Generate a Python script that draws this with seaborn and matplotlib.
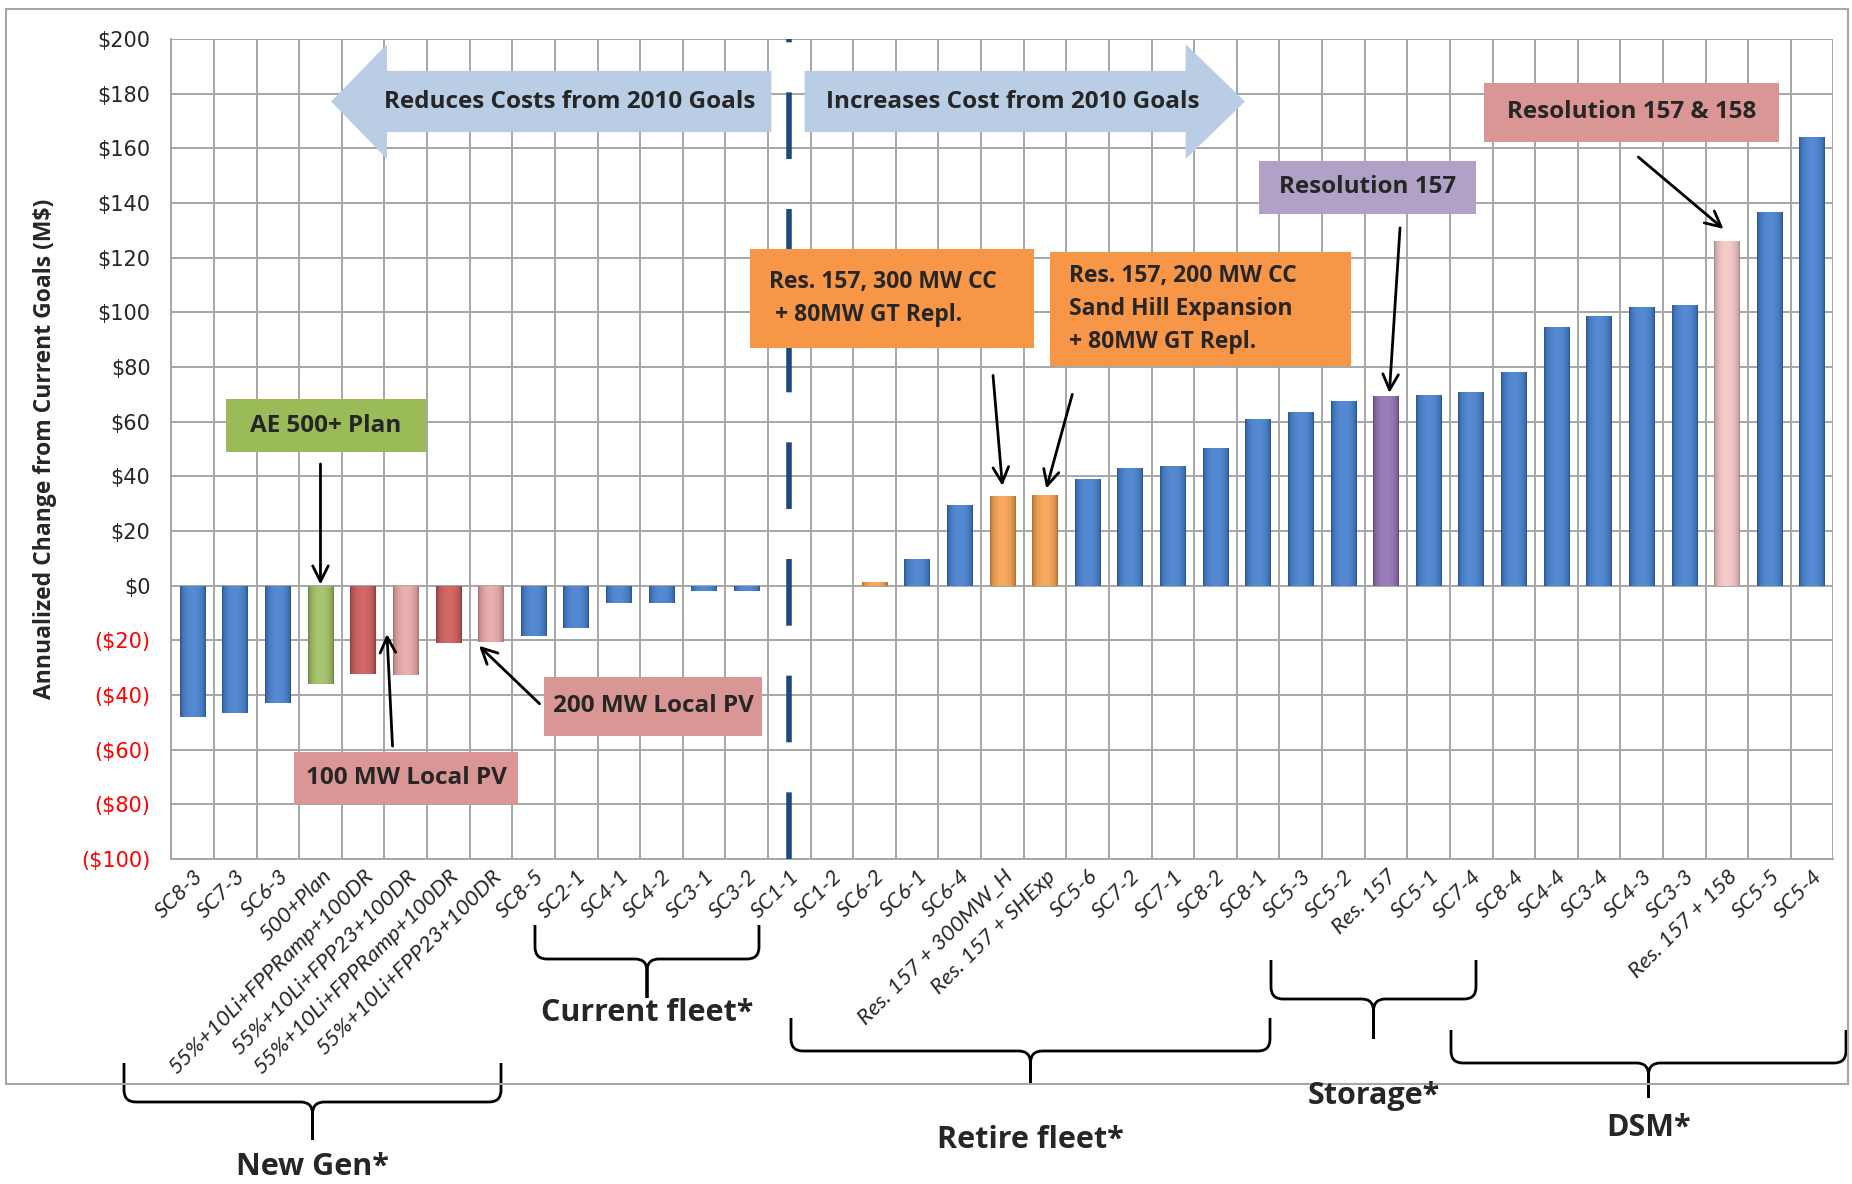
import numpy as np
import pandas as pd
import matplotlib.pyplot as plt
import seaborn as sns
from matplotlib.patches import Rectangle, FancyArrow, PathPatch
from matplotlib.path import Path
from matplotlib.ticker import FuncFormatter

# scenario labels, in plotted order
scenarios = ["SC8-3", "SC7-3", "SC6-3", "500+Plan",
             "55%+10Li+FPPRamp+100DR", "55%+10Li+FPP23+100DR",
             "55%+10Li+FPPRamp+100DR", "55%+10Li+FPP23+100DR",
             "SC8-5", "SC2-1", "SC4-1", "SC4-2", "SC3-1", "SC3-2",
             "SC1-1", "SC1-2", "SC6-2", "SC6-1", "SC6-4",
             "Res. 157 + 300MW_H", "Res. 157 + SHExp",
             "SC5-6", "SC7-2", "SC7-1", "SC8-2", "SC8-1", "SC5-3", "SC5-2",
             "Res. 157", "SC5-1", "SC7-4", "SC8-4", "SC4-4", "SC3-4", "SC4-3", "SC3-3",
             "Res. 157 + 158", "SC5-5", "SC5-4"]
# annualized change from current goals, M$
change = [-48, -46.5, -43, -36, -32.3, -32.7, -21, -20.5, -18.3, -15.4, -6.4, -6.4, -2, -2,
          0, 0, 1.5, 9.8, 29.5, 32.9, 33.3, 39, 43, 43.8, 50.4, 61, 63.5, 67.6,
          69.5, 69.8, 70.7, 78, 94.6, 98.8, 101.8, 102.8, 126, 136.6, 164]
kind = (["scenario"] * 3 + ["ae500", "pv_ramp", "pv_fpp23", "pv_ramp", "pv_fpp23"]
        + ["scenario"] * 8 + ["cc"] + ["scenario"] * 2 + ["cc"] * 2
        + ["scenario"] * 7 + ["res157"] + ["scenario"] * 7 + ["res158"] + ["scenario"] * 2)

palette = {"scenario": "#3776cc", "ae500": "#9bbb59", "pv_ramp": "#c94f4c",
           "pv_fpp23": "#e6a0a0", "cc": "#f79a40", "res157": "#8a67b0",
           "res158": "#f4c2c2"}

df = pd.DataFrame({"pos": range(len(scenarios)), "change": change, "kind": kind})

sns.set_style("white")
plt.rcParams["font.family"] = ["Lato", "DejaVu Sans"]
BOLD = dict(family="Open Sans", fontweight="bold")

W, H = 1852, 1184
fig = plt.figure(figsize=(W / 100, H / 100), dpi=100)
ax = fig.add_axes([0.0925, 0.2745, 0.8975, 0.6926])

sns.barplot(data=df, x="pos", y="change", hue="kind", palette=palette, dodge=False,
            width=0.6, saturation=1, legend=False, ax=ax, zorder=3, edgecolor="none")

# cylinder-like shading on each bar
t = np.linspace(-1, 1, 64)
s = (1 - t ** 2) ** 0.5
for p in list(ax.patches):
    h = p.get_height()
    if abs(h) < 0.05:
        continue
    base = np.array(p.get_facecolor()[:3])
    dark = base * 0.66
    light = base + (1 - base) * 0.15
    img = (dark[None, :] + (light - dark)[None, :] * s[:, None])[None, :, :]
    y0, y1 = sorted([p.get_y(), p.get_y() + h])
    im = ax.imshow(img, extent=(p.get_x(), p.get_x() + p.get_width(), y0, y1),
                   aspect="auto", zorder=3.5, interpolation="bilinear")
    im.set_clip_path(p)

ax.set_xlim(-0.5, len(scenarios) - 0.5)
ax.set_ylim(-100, 200)
ax.set_aspect("auto")

# grid
ax.set_yticks(np.arange(-100, 201, 20))
ax.set_xticks(range(len(scenarios)))
ax.set_xticks(np.arange(-0.5, len(scenarios), 1), minor=True)
ax.grid(which="major", axis="y", color="#a6a6a6", lw=1.4, zorder=0)
ax.grid(which="minor", axis="x", color="#a6a6a6", lw=1.4, zorder=0)
ax.set_axisbelow(True)
for sp in ["top", "right"]:
    ax.spines[sp].set_visible(False)
for sp in ["left", "bottom"]:
    ax.spines[sp].set_color("#a6a6a6")
    ax.spines[sp].set_linewidth(1.4)

ax.yaxis.set_major_formatter(FuncFormatter(lambda v, _: f"${v:.0f}" if v >= 0 else f"(${-v:.0f})"))
ax.tick_params(axis="y", length=7, color="#a6a6a6", width=1.4, pad=8)
ax.tick_params(axis="x", which="both", length=0, pad=5)
for lab in ax.get_yticklabels():
    lab.set_family("DejaVu Sans")
    lab.set_fontsize(15)
    if lab.get_text().startswith("("):
        lab.set_color("#ff0000")
ax.set_xticklabels(scenarios, rotation=45, ha="right", rotation_mode="anchor",
                   fontsize=16, style="italic")
ax.set_xlabel("")
ax.set_ylabel("Annualized Change from Current Goals (M$)", fontsize=16.5, **BOLD)
ax.yaxis.set_label_coords(-0.069, 0.5)

# divider between cost reductions and increases
ax.axvline(scenarios.index("SC1-1"), color="#1f497d", lw=4, dashes=(12, 9), zorder=4)

# big direction arrows
arrow_kw = dict(width=22.4, head_width=42, length_includes_head=True,
                fc="#b9cde5", ec="none", zorder=5)
ax.add_patch(FancyArrow(13.58, 177.1, -10.33, 0, head_length=1.31, **arrow_kw))
ax.add_patch(FancyArrow(14.36, 177.1, 10.33, 0, head_length=1.39, **arrow_kw))
ax.text(8.85, 177.1, "Reduces Costs from 2010 Goals", ha="center", va="center",
        fontsize=17.5, zorder=6, **BOLD)
ax.text(19.25, 177.1, "Increases Cost from 2010 Goals", ha="center", va="center",
        fontsize=17.5, zorder=6, **BOLD)

# call-out boxes
callouts = [
    ("AE 500+ Plan", "#9bbb59", (0.78, 5.47, 48.8, 68.3), (3.0, 44.5), (3.0, 0.4)),
    ("100 MW Local PV", "#d99694", (2.39, 7.64, -79.9, -60.9), (4.69, -58.7), (4.56, -17.7)),
    ("200 MW Local PV", "#d99694", (8.25, 13.36, -54.9, -33.3), (8.14, -43.2), (6.72, -22)),
    ("Res. 157, 300 MW CC\n + 80MW GT Repl.", "#f79646", (13.08, 19.75, 86.8, 123.1),
     (18.78, 76.9), (19.0, 36.5)),
    ("Res. 157, 200 MW CC\nSand Hill Expansion\n+ 80MW GT Repl.", "#f79646",
     (20.11, 27.19, 80.3, 122.2), (20.64, 70), (20.03, 35.5)),
    ("Resolution 157", "#b2a1c7", (25.03, 30.11, 136.1, 155.5), (28.33, 130.9), (28.08, 70.5)),
    ("Resolution 157 & 158", "#d99694", (30.31, 37.22, 162.4, 184), (33.92, 156.8), (35.92, 130.5)),
]
for text, color, (x0, x1, y0, y1), start, tip in callouts:
    ax.add_patch(Rectangle((x0, y0), x1 - x0, y1 - y0, fc=color, ec="none", zorder=5))
    if "\n" in text:
        ax.text(x0 + 0.45, (y0 + y1) / 2, text, ha="left", va="center", fontsize=16.5,
                linespacing=1.5, zorder=6, **BOLD)
    else:
        ax.text((x0 + x1) / 2, (y0 + y1) / 2, text, ha="center", va="center", fontsize=17.5,
                zorder=6, **BOLD)
    ax.annotate("", xy=tip, xytext=start, zorder=6,
                arrowprops=dict(arrowstyle="->", lw=2, color="black", shrinkA=0, shrinkB=0,
                                mutation_scale=28))


# curly braces grouping the scenarios (figure pixel coords)
def brace(x0, x1, ytop, ymid, ytip, label, ly, r=12):
    xc = (x0 + x1) / 2
    pts = [(x0, ytop), (x0, ymid - r), (x0, ymid), (x0 + r, ymid), (xc - r, ymid), (xc, ymid),
           (xc, ymid + r), (xc, ytip), (xc, ymid + r), (xc, ymid), (xc + r, ymid),
           (x1 - r, ymid), (x1, ymid), (x1, ymid - r), (x1, ytop)]
    codes = [Path.MOVETO, Path.LINETO, Path.CURVE3, Path.CURVE3, Path.LINETO, Path.CURVE3,
             Path.CURVE3, Path.LINETO, Path.LINETO, Path.CURVE3, Path.CURVE3, Path.LINETO,
             Path.CURVE3, Path.CURVE3, Path.LINETO]
    verts = [(x / W, 1 - y / H) for x, y in pts]
    fig.add_artist(PathPatch(Path(verts, codes), fill=False, lw=2, ec="black",
                             transform=fig.transFigure))
    fig.text(xc / W, 1 - ly / H, label, ha="center", va="center", fontsize=22, **BOLD)


brace(535, 759, 925, 959, 998, "Current fleet*", 1013)
brace(124, 501, 1063, 1102, 1140, "New Gen*", 1167)
brace(791, 1270, 1018, 1051, 1084, "Retire fleet*", 1140)
brace(1271, 1476, 960, 999, 1039, "Storage*", 1096)
brace(1451, 1846, 1030, 1063, 1098, "DSM*", 1128)

# chart frame
fig.add_artist(Rectangle((6 / W, 1 - 1084 / H), 1842 / W, 1075 / H, transform=fig.transFigure,
                         fill=False, ec="#a6a6a6", lw=1.5))

fig.savefig("out.png", dpi=100)
